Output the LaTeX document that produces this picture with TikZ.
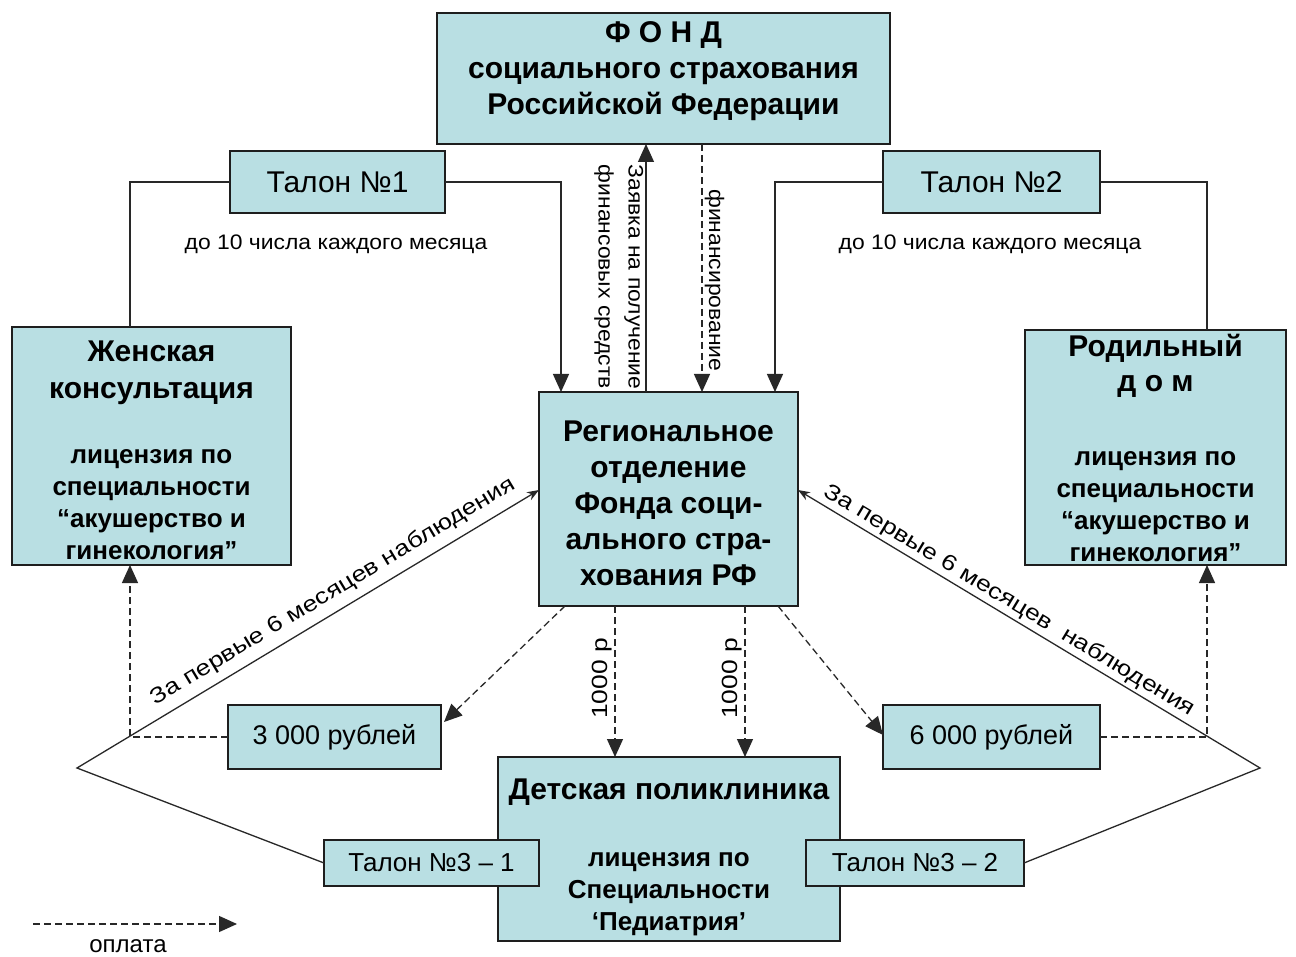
\documentclass[tikz,border=0pt]{standalone}
\usepackage{fontspec}
\setmainfont{Liberation Sans}
\newfontfamily\wA[FakeStretch=1.09]{Liberation Sans}
\newfontfamily\wB[FakeStretch=1.2]{Liberation Sans}
\usetikzlibrary{arrows.meta}
\definecolor{boxfill}{RGB}{185,223,227}
\definecolor{edge}{RGB}{30,30,30}
\definecolor{linec}{RGB}{40,40,40}
\newcommand\ttlf{\bfseries\fontsize{30}{36}\selectfont}
\newcommand\licf{\bfseries\fontsize{26}{32}\selectfont}
\newcommand\talf{\fontsize{30}{32}\selectfont}
\newcommand\talsf{\fontsize{26}{30}\selectfont}
\newcommand\regf{\fontsize{27}{32}\selectfont}
\tikzset{
 box/.style={draw=edge, line width=1.5pt, fill=boxfill, inner sep=0pt, outer sep=0pt, align=center},
 conn/.style={draw=linec, line width=1.3pt},
 tip/.style={-{Triangle[length=18pt,width=16pt]}},
 stip/.style={-{Stealth[length=12pt,width=9pt]}},
 dsh/.style={dash pattern=on 7pt off 4pt},
 lbl/.style={inner sep=2pt, align=center},
}
\begin{document}
\begin{tikzpicture}[x=1pt,y=-1pt]
\useasboundingbox (0,0) rectangle (1296,957);
\fill[white] (0,0) rectangle (1296,957);

% boxes
\node[box, minimum width=453pt, minimum height=131pt, font=\ttlf] (fund) at (663.5,78.5) {Ф О Н Д\\социального страхования\\Российской Федерации\rule[-21pt]{0pt}{0pt}};
\node[box, minimum width=215pt, minimum height=62pt, font=\talf] (t1) at (337.5,182) {Талон №1};
\node[box, minimum width=217pt, minimum height=62pt, font=\talf] (t2) at (991.5,182) {Талон №2};
\node[box, minimum width=279pt, minimum height=238pt, font=\licf] (zk) at (151.5,446) {{\ttlf\rule{0pt}{28.5pt}Женская}\\[5pt]{\ttlf консультация}\\[33pt]лицензия по\\специальности\\“акушерство и\\гинекология”};
\node[box, minimum width=261pt, minimum height=235pt, font=\licf] (rd) at (1155.5,447.5) {{\ttlf Родильный}\\[3pt]{\ttlf д о м}\\[42pt]лицензия по\\специальности\\“акушерство и\\гинекология”};
\node[box, minimum width=259pt, minimum height=214pt, font=\ttlf] (reg) at (668.5,499) {\rule{0pt}{29.5pt}Региональное\\отделение\\Фонда соци-\\ального стра-\\хования РФ};
\node[box, minimum width=213pt, minimum height=64pt, font=\regf] (r3) at (334.5,737) {3 000 рублей};
\node[box, minimum width=217pt, minimum height=64pt, font=\regf] (r6) at (991.5,737) {6 000 рублей};
\node[box, minimum width=342pt, minimum height=184pt, font=\licf] (dp) at (669,849) {{\ttlf\rule{0pt}{36.5pt}Детская поликлиника}\\[35pt]лицензия по\\Специальности\\‘Педиатрия’};
\node[box, minimum width=215pt, minimum height=46pt, font=\talsf] (t31) at (431.5,863) {Талон №3 – 1};
\node[box, minimum width=218pt, minimum height=46pt, font=\talsf] (t32) at (915,863) {Талон №3 – 2};

% month labels
\node[lbl, font=\wA\fontsize{21}{26}\selectfont] (m1) at (336,244) {до 10 числа каждого месяца};
\node[lbl, font=\wA\fontsize{21}{26}\selectfont] (m2) at (990,244) {до 10 числа каждого месяца};

% talon 1 and 2
\draw[conn] ([xshift=-21.5pt]zk.north) |- (t1.west);
\draw[conn,tip] (t1.east) -| ([xshift=22pt]reg.north west);
\draw[conn,tip] (t2.west) -| ([xshift=-23pt]reg.north east);
\draw[conn] (t2.east) -| ([xshift=51.5pt]rd.north);

% region <-> fund
\draw[conn,tip] ([xshift=107pt]reg.north west) -- ([xshift=107pt]reg.north west |- fund.south)
  node[lbl, font=\wA\fontsize{21}{30}\selectfont, pos=0.464, rotate=-90, anchor=north] (req) {Заявка на получение\\финансовых средств};
\draw[conn,dsh,tip] ([xshift=38.5pt]fund.south) -- ([xshift=38.5pt]fund.south |- reg.north)
  node[lbl, font=\wA\fontsize{21}{26}\selectfont, pos=0.55, rotate=-90, anchor=south] (fin) {финансирование};

% payments
\draw[conn,dsh,tip] ([xshift=26pt]reg.south west) -- ([xshift=3pt,yshift=-17pt]r3.north east);
\draw[conn,dsh,tip] ([xshift=-20pt]reg.south east) -- ([yshift=-30pt]r6.north west);
\draw[conn,dsh,tip] ([xshift=76pt]reg.south west) -- ([xshift=76pt]reg.south west |- dp.north)
  node[lbl, font=\wB\fontsize{22}{26}\selectfont, pos=0.48, rotate=90, anchor=south] (p1) {1000 р};
\draw[conn,dsh,tip] ([xshift=206pt]reg.south west) -- ([xshift=206pt]reg.south west |- dp.north)
  node[lbl, font=\wB\fontsize{22}{26}\selectfont, pos=0.48, rotate=90, anchor=south] (p2) {1000 р};
\draw[conn,dsh,tip] (r3.west) -| ([xshift=-21.5pt]zk.south);
\draw[conn,dsh,tip] (r6.east) -| ([xshift=51.5pt]rd.south);

% triangle connectors
\coordinate (cl) at (77,768);
\coordinate (cr) at (1260,768);
\draw[conn,stip] (t31.west) -- (cl) -- ([yshift=9pt]reg.west)
  node[lbl, font=\wB\fontsize{22}{26}\selectfont, pos=0.576, sloped, above=6pt] (s1) {За первые 6 месяцев наблюдения};
\draw[conn,stip] (t32.east) -- (cr) -- ([yshift=9pt]reg.east)
  node[lbl, font=\wB\fontsize{22}{26}\selectfont, pos=0.558, sloped, above=1pt] (s2) {За первые 6 месяцев\ \ наблюдения};

% legend
\coordinate (lg1) at (33,924);
\coordinate (lg2) at (237,924);
\draw[conn,dsh,tip] (lg1) -- (lg2);
\node[lbl, font=\fontsize{24}{28}\selectfont] (lgt) at (128,946) {оплата};
\end{tikzpicture}
\end{document}
